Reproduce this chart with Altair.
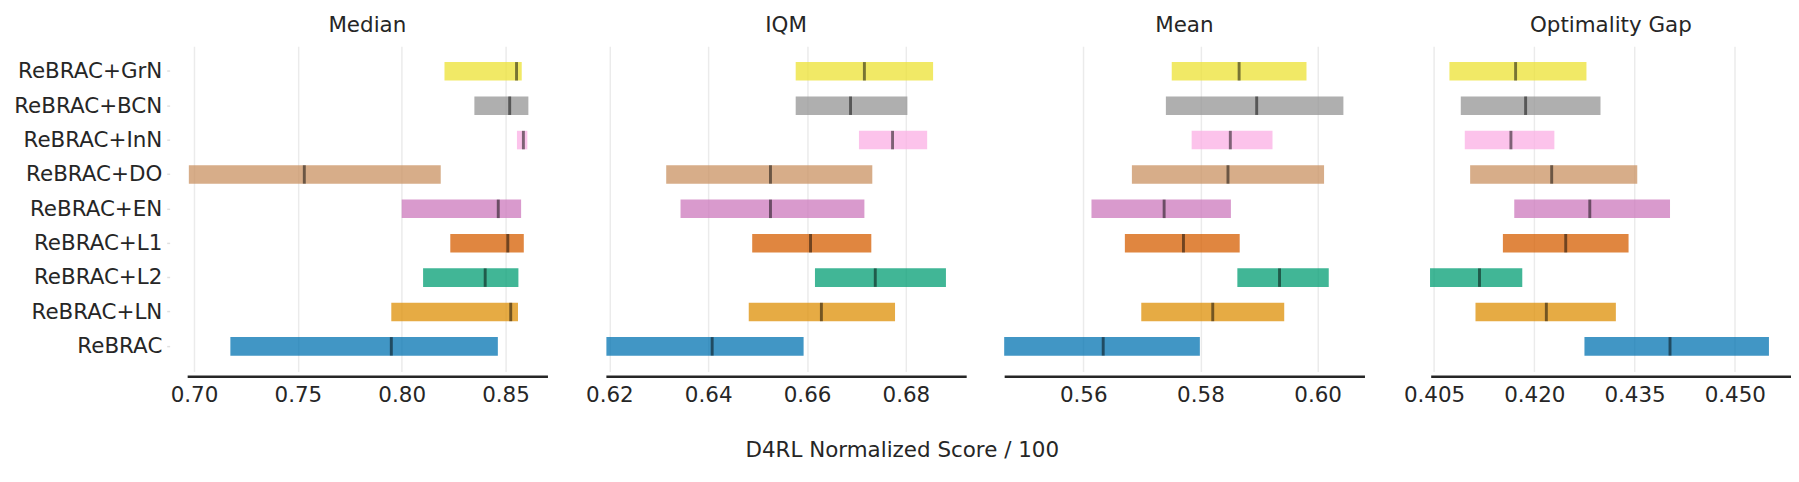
import altair as alt
import pandas as pd

methods = ["ReBRAC+GrN", "ReBRAC+BCN", "ReBRAC+InN", "ReBRAC+DO", "ReBRAC+EN",
           "ReBRAC+L1", "ReBRAC+L2", "ReBRAC+LN", "ReBRAC"]
colors = ["#ece133", "#949494", "#fbafe4", "#ca9161", "#cc78bc",
          "#d55e00", "#029e73", "#de8f05", "#0173b2"]

median_lo = [0.8206, 0.8350, 0.8555, 0.6975, 0.8000, 0.8234, 0.8103, 0.7950, 0.7175]
median_pt = [0.8553, 0.8520, 0.8586, 0.7531, 0.8465, 0.8511, 0.8402, 0.8525, 0.7950]
median_hi = [0.8578, 0.8610, 0.8605, 0.8188, 0.8575, 0.8588, 0.8562, 0.8560, 0.8463]

iqm_lo = [0.6577, 0.6577, 0.6705, 0.6315, 0.6344, 0.6489, 0.6616, 0.6482, 0.6194]
iqm_pt = [0.6716, 0.6688, 0.6773, 0.6526, 0.6526, 0.6607, 0.6738, 0.6629, 0.6408]
iqm_hi = [0.6855, 0.6803, 0.6843, 0.6732, 0.6716, 0.6730, 0.6881, 0.6778, 0.6593]

mean_lo = [0.5751, 0.5741, 0.5785, 0.5683, 0.5614, 0.5671, 0.5863, 0.5699, 0.5465]
mean_pt = [0.5866, 0.5896, 0.5851, 0.5847, 0.5738, 0.5771, 0.5935, 0.5821, 0.5634]
mean_hi = [0.5981, 0.6044, 0.5923, 0.6011, 0.5852, 0.5867, 0.6019, 0.5943, 0.5799]

og_lo = [0.4073, 0.4090, 0.4096, 0.4104, 0.4170, 0.4153, 0.4044, 0.4112, 0.4275]
og_pt = [0.4172, 0.4187, 0.4165, 0.4226, 0.4283, 0.4247, 0.4118, 0.4218, 0.4403]
og_hi = [0.4278, 0.4299, 0.4230, 0.4354, 0.4403, 0.4341, 0.4182, 0.4322, 0.4551]

panels = [
    ("Median", median_lo, median_pt, median_hi, [0.6967, 0.8702], [0.70, 0.75, 0.80, 0.85], ".2f"),
    ("IQM", iqm_lo, iqm_pt, iqm_hi, [0.6193, 0.6922], [0.62, 0.64, 0.66, 0.68], ".2f"),
    ("Mean", mean_lo, mean_pt, mean_hi, [0.5465, 0.6080], [0.56, 0.58, 0.60], ".2f"),
    ("Optimality Gap", og_lo, og_pt, og_hi, [0.4045, 0.4584], [0.405, 0.420, 0.435, 0.450], ".3f"),
]

FONT = "DejaVu Sans"
TXT = "#262626"
W, H = 370, 334


def make_panel(title, lo, pt, hi, domain, ticks, fmt, show_y):
    df = pd.DataFrame({"method": methods, "lo": lo, "pt": pt, "hi": hi})
    yscale = alt.Scale(domain=methods, paddingInner=0.46, paddingOuter=0.46)
    if show_y:
        yaxis = alt.Axis(title=None, labelFont=FONT, labelFontSize=22, labelColor=TXT,
                         domain=False, ticks=True, tickSize=3, tickColor="#e0e0e0",
                         tickWidth=1.5, labelPadding=5, offset=18, grid=False,
                         labelLimit=300)
    else:
        yaxis = None
    y = alt.Y("method:N", sort=methods, scale=yscale, axis=yaxis)
    xaxis = alt.Axis(values=ticks, format=fmt, title=None, labelFont=FONT,
                     labelFontSize=22, labelColor=TXT, ticks=False, labelPadding=9,
                     domainColor=TXT, domainWidth=2.5, offset=5, grid=True,
                     gridColor="#ebebeb", gridWidth=1.5, labelFlush=False)
    x = alt.X("lo:Q", scale=alt.Scale(domain=domain, nice=False, zero=False), axis=xaxis)
    bars = alt.Chart(df).mark_bar(opacity=0.75).encode(
        y=y, x=x, x2="hi:Q",
        color=alt.Color("method:N", scale=alt.Scale(domain=methods, range=colors), legend=None),
    )
    marks = alt.Chart(df).mark_tick(color="black", opacity=0.5, thickness=3, size=19).encode(
        y=alt.Y("method:N", sort=methods, scale=yscale, axis=yaxis),
        x=alt.X("pt:Q"),
    )
    return alt.layer(bars, marks).properties(
        width=W, height=H,
        title=alt.TitleParams(title, font=FONT, fontSize=22, fontWeight="normal",
                              color=TXT, offset=10, anchor="middle"),
    )


charts = [make_panel(*p, show_y=(i == 0)) for i, p in enumerate(panels)]

chart = alt.hconcat(*charts, spacing=39).properties(
    title=alt.TitleParams("D4RL Normalized Score / 100", orient="bottom", anchor="middle",
                          font=FONT, fontSize=22, fontWeight="normal", color=TXT, offset=36),
    padding={"left": 5, "top": 0, "right": 0, "bottom": 5},
).configure_view(stroke=None).resolve_scale(x="independent", y="independent")

chart.save("out.html", embed_options={"renderer": "svg", "actions": False})
